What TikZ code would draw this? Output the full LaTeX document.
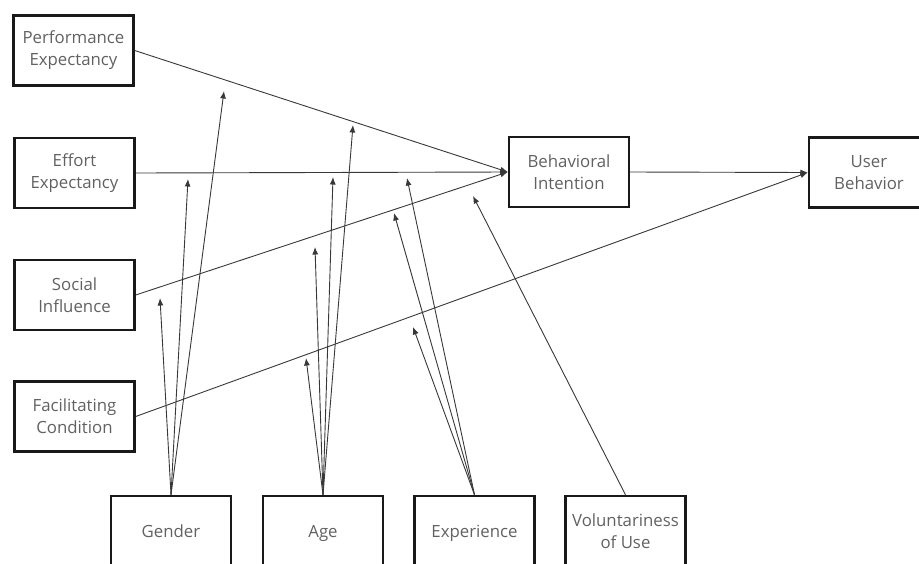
\documentclass[tikz,border=0pt]{standalone}
\usepackage{fontspec}
\setmainfont{Open Sans}
\usetikzlibrary{arrows.meta}
\begin{document}
\begin{tikzpicture}[x=1pt,y=-1pt,
  box/.style={draw=black!90, line width=2.4pt, minimum width=120pt, minimum height=70pt,
    inner sep=0pt, align=center, font=\fontsize{16.8}{22}\selectfont, text=black!62},
  single/.style={text height=15pt, text depth=3pt},
  link/.style={draw=black!78, line width=0.9pt, -{Latex[length=7.5pt,width=6pt]}}]
\useasboundingbox (0,0) rectangle (919,563);
\begin{scope}
\clip (0,0) rectangle (919,563);
\node[box] (pe) at (73.5,50.5) {Performance\\Expectancy};
\node[box] (ee) at (74.5,173) {Effort\\Expectancy};
\node[box] (si) at (74.5,295) {Social\\Influence};
\node[box] (fc) at (74.5,416.5) {Facilitating\\Condition};
\node[box] (bi) at (569,172) {Behavioral\\Intention};
\node[box] (ub) at (869,172.5) {User\\Behavior};
\node[box,single] (ge) at (171,531) {Gender};
\node[box,single] (ag) at (323,531) {Age};
\node[box,single] (ex) at (474.5,531) {Experience};
\node[box] (vo) at (625.5,531) {Voluntariness\\of Use};

\coordinate (g1) at (160,298);
\coordinate (g2) at (188,179);
\coordinate (g3) at (224,91);
\coordinate (a1) at (306,358);
\coordinate (a2) at (315,247);
\coordinate (a3) at (333,177);
\coordinate (a4) at (353,125);
\coordinate (e1) at (413,327);
\coordinate (e2) at (394,213);
\coordinate (e3) at (407,178);
\coordinate (v1) at (473,196);

\draw[link] (pe.east) -- (bi.west);
\draw[link] (ee.east) -- (bi.west);
\draw[link] (si.east) -- (bi.west);
\draw[link] (fc.east) -- (ub.west);
\draw[link] (bi.east) -- (ub.west);

\draw[link] (ge.north) -- (g1);
\draw[link] (ge.north) -- (g2);
\draw[link] (ge.north) -- (g3);
\draw[link] (ag.north) -- (a1);
\draw[link] (ag.north) -- (a2);
\draw[link] (ag.north) -- (a3);
\draw[link] (ag.north) -- (a4);
\draw[link] (ex.north) -- (e1);
\draw[link] (ex.north) -- (e2);
\draw[link] (ex.north) -- (e3);
\draw[link] (vo.north) -- (v1);
\end{scope}
\end{tikzpicture}
\end{document}
